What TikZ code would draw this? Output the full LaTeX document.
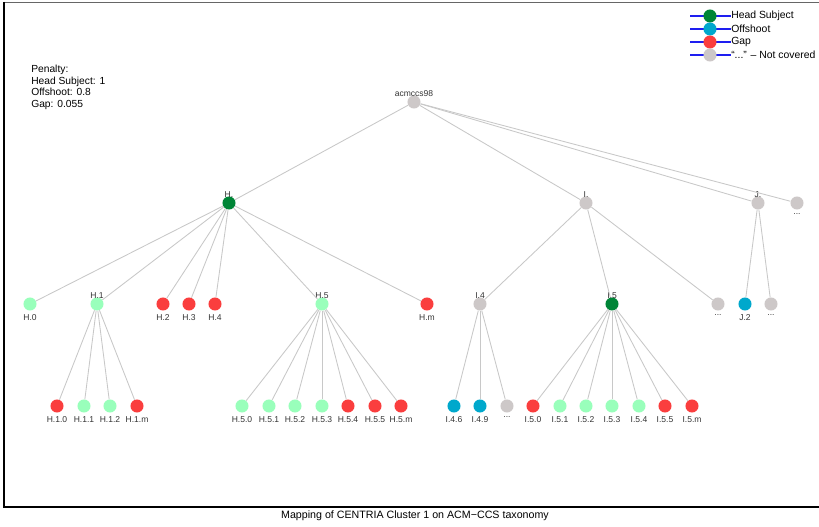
\documentclass[tikz,border=0pt]{standalone}
\usepackage{fontspec}
\setmainfont{Liberation Sans}
\usetikzlibrary{positioning}
\definecolor{headc}{RGB}{0,133,55}
\definecolor{offc}{RGB}{0,168,204}
\definecolor{gapc}{RGB}{250,62,62}
\definecolor{subc}{RGB}{153,255,187}
\definecolor{nocov}{RGB}{205,200,200}
\definecolor{edgec}{RGB}{200,200,200}
\definecolor{legblue}{RGB}{30,30,240}
\tikzset{
  dot/.style={circle,fill=#1,minimum size=9.8pt,inner sep=0pt},
  dot/.default=nocov,
  edge/.style={draw=edgec,line width=0.65pt},
  legline/.style={draw=legblue,line width=1.4pt},
  every label/.style={font=\fontsize{6.4}{7}\selectfont,inner sep=0pt,text=black!80},
  up/.style={label={[label distance=-1.5pt]above:#1}},
  down/.style={label={[label distance=2.3pt]below:#1}},
  note/.style={font=\fontsize{7.7}{8.7}\selectfont,align=left,inner sep=0pt},
}
\begin{document}
\begin{tikzpicture}[x=0.75pt,y=-0.75pt]
  \useasboundingbox (0,0) rectangle (819,527);
  % frame
  \draw[black!60,line width=0.5pt] (4,2) -- (819,2);
  \draw[black,line width=1.3pt] (4,2) -- (4,507) -- (819,507);
  \node[font=\fontsize{8}{9}\selectfont,inner sep=0pt] (caption) at (415,516) {Mapping of CENTRIA Cluster 1 on ACM−CCS taxonomy};

  % penalty
  \node[note,anchor=north west] (pen) at (31,65) {Penalty:\\Head Subject: 1\\Offshoot: 0.8\\Gap: 0.055};

  % legend
  \foreach \i/\c/\t in {1/headc/Head Subject,2/offc/Offshoot,3/gapc/Gap,4/nocov/{``...'' -- Not covered}} {
    \coordinate (lg\i) at (710,3+13*\i);
    \draw[legline] ([xshift=-15]lg\i) -- ([xshift=16]lg\i);
    \node[dot=\c] (lgdot\i) at (lg\i) {};
    \node[note,font=\fontsize{7.8}{9}\selectfont,anchor=west] (lgtxt\i) at (731,3+13*\i) {\t};
  }

  % root and first level
  \node[dot,up=acmccs98] (root) at (414,102) {};
  \node[dot=headc,up=H.] (h) at (229,203) {};
  \node[dot,up=I.] (i) at (586,203) {};
  \node[dot,up=J.] (j) at (758,203) {};
  \node[dot,down=...] (rdots) at (797,203) {};
  \foreach \n in {h,i,j,rdots} \draw[edge] (root) -- (\n);

  % second level
  \node[dot=subc,down=H.0] (h0) at (30,304) {};
  \node[dot=subc,up=H.1] (h1) at (97,304) {};
  \node[dot=gapc,down=H.2] (h2) at (163,304) {};
  \node[dot=gapc,down=H.3] (h3) at (189,304) {};
  \node[dot=gapc,down=H.4] (h4) at (215,304) {};
  \node[dot=subc,up=H.5] (h5) at (322,304) {};
  \node[dot=gapc,down=H.m] (hm) at (427,304) {};
  \foreach \n in {h0,h1,h2,h3,h4,h5,hm} \draw[edge] (h) -- (\n);
  \node[dot,up=I.4] (i4) at (480,304) {};
  \node[dot=headc,up=I.5] (i5) at (612,304) {};
  \node[dot,down=...] (idots) at (718,304) {};
  \foreach \n in {i4,i5,idots} \draw[edge] (i) -- (\n);
  \node[dot=offc,down=J.2] (j2) at (745,304) {};
  \node[dot,down=...] (jdots) at (771,304) {};
  \foreach \n in {j2,jdots} \draw[edge] (j) -- (\n);

  % third level
  \foreach \k/\x/\c in {0/57/gapc,1/84/subc,2/110/subc,m/137/gapc} {
    \node[dot=\c,down=H.1.\k] (h1\k) at (\x,406) {};
    \draw[edge] (h1) -- (h1\k);
  }
  \foreach \k/\x/\c in {0/242/subc,1/269/subc,2/295/subc,3/322/subc,4/348/gapc,5/375/gapc,m/401/gapc} {
    \node[dot=\c,down=H.5.\k] (h5\k) at (\x,406) {};
    \draw[edge] (h5) -- (h5\k);
  }
  \node[dot=offc,down=I.4.6] (i46) at (454,406) {};
  \node[dot=offc,down=I.4.9] (i49) at (480,406) {};
  \node[dot,down=...] (i4dots) at (507,406) {};
  \foreach \n in {i46,i49,i4dots} \draw[edge] (i4) -- (\n);
  \foreach \k/\x/\c in {0/533/gapc,1/560/subc,2/586/subc,3/612/subc,4/639/subc,5/665/gapc,m/692/gapc} {
    \node[dot=\c,down=I.5.\k] (i5\k) at (\x,406) {};
    \draw[edge] (i5) -- (i5\k);
  }
\end{tikzpicture}
\end{document}
